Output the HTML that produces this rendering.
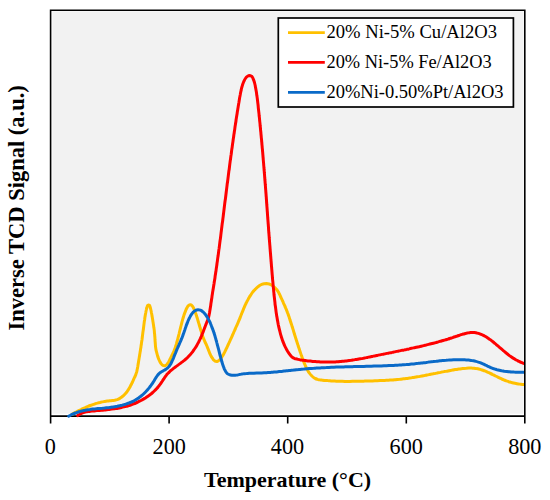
<!DOCTYPE html>
<html><head><meta charset="utf-8"><style>
html,body{margin:0;padding:0;background:#fff;}
body{width:550px;height:500px;overflow:hidden;position:relative;font-family:"Liberation Serif",serif;}
svg{position:absolute;left:0;top:0;}
</style></head><body>
<svg width="550" height="500" viewBox="0 0 550 500">
<defs><clipPath id="pc"><rect x="40" y="11" width="484.1" height="412"/></clipPath></defs>
<rect x="52.4" y="11.4" width="471.2" height="402.3" fill="#F2F2F2"/>

<g stroke="#000" stroke-width="1.6" fill="none">
<path d="M50.6,423.6 V10.2 H524.8 V423.6"/>
<path d="M50.6,416.1 H524.8"/>
<path d="M169.1,416 V423.6 M287.7,416 V423.6 M406.3,416 V423.6"/>
</g>
<g clip-path="url(#pc)" fill="none" stroke-linecap="round" stroke-linejoin="round" stroke-width="3.0">
<path stroke="#FFC000" d="M72.3,414.1 C72.7,413.9 73.8,413.3 74.5,412.9 C75.2,412.5 76.0,412.1 76.7,411.7 C77.4,411.4 78.2,411.0 78.9,410.6 C79.7,410.2 80.4,409.9 81.2,409.5 C81.9,409.1 82.7,408.8 83.4,408.4 C84.2,408.1 85.0,407.7 85.7,407.4 C86.5,407.1 87.2,406.7 88.0,406.4 C88.8,406.1 89.6,405.8 90.3,405.5 C91.1,405.2 91.9,404.9 92.7,404.6 C93.5,404.4 94.3,404.1 95.1,403.8 C95.9,403.6 96.6,403.3 97.4,403.1 C98.2,402.9 99.0,402.7 99.9,402.5 C100.7,402.3 101.5,402.1 102.3,401.9 C103.1,401.7 103.9,401.6 104.8,401.4 C105.6,401.3 106.4,401.2 107.2,401.1 C108.0,401.0 108.9,400.9 109.7,400.8 C110.5,400.7 111.4,400.7 112.2,400.6 C113.0,400.5 113.8,400.3 114.7,400.2 C115.5,400.0 116.3,399.8 117.1,399.6 C117.9,399.3 118.7,399.0 119.4,398.6 C120.1,398.2 120.8,397.8 121.5,397.3 C122.2,396.8 122.8,396.3 123.5,395.7 C124.1,395.1 124.6,394.5 125.2,393.9 C125.7,393.3 126.3,392.6 126.8,392.0 C127.3,391.3 127.7,390.6 128.2,389.9 C128.6,389.2 129.1,388.5 129.5,387.8 C129.9,387.1 130.3,386.3 130.7,385.6 C131.1,384.8 131.5,384.1 131.8,383.4 C132.2,382.6 132.5,381.9 132.9,381.1 C133.3,380.3 133.6,379.6 133.9,378.8 C134.3,378.1 134.6,377.3 135.0,376.5 C135.3,375.8 135.7,375.0 135.9,374.2 C136.2,373.4 136.5,372.7 136.7,371.9 C136.9,371.0 137.1,370.2 137.2,369.4 C137.4,368.6 137.5,367.8 137.7,367.0 C137.8,366.2 138.0,365.3 138.1,364.5 C138.2,363.6 138.4,362.8 138.5,362.0 C138.6,361.2 138.8,360.3 138.9,359.5 C139.1,358.6 139.2,357.9 139.3,357.1 C139.5,356.3 139.6,355.4 139.7,354.5 C139.9,353.7 140.0,352.9 140.1,352.1 C140.3,351.3 140.4,350.5 140.5,349.7 C140.6,348.8 140.8,348.0 140.9,347.2 C141.0,346.3 141.1,345.6 141.3,344.7 C141.4,343.9 141.5,343.1 141.6,342.2 C141.7,341.4 141.8,340.6 142.0,339.8 C142.1,339.0 142.2,338.1 142.3,337.3 C142.4,336.4 142.5,335.6 142.6,334.8 C142.7,334.0 142.8,333.2 142.9,332.3 C143.0,331.5 143.2,330.6 143.3,329.8 C143.4,329.0 143.5,328.1 143.6,327.3 C143.7,326.5 143.8,325.7 143.9,324.8 C144.0,324.0 144.1,323.2 144.2,322.4 C144.3,321.6 144.4,320.8 144.6,320.0 C144.7,319.1 144.8,318.2 144.9,317.4 C145.1,316.6 145.2,315.8 145.3,315.0 C145.5,314.2 145.6,313.3 145.8,312.5 C145.9,311.7 146.1,310.8 146.3,310.0 C146.4,309.2 146.6,308.4 146.9,307.6 C147.1,306.9 147.3,305.7 147.7,305.3 C148.2,304.9 149.0,304.9 149.5,305.2 C149.9,305.6 150.1,306.8 150.3,307.6 C150.6,308.4 150.7,309.2 150.9,310.0 C151.1,310.8 151.2,311.6 151.4,312.5 C151.6,313.3 151.7,314.2 151.9,315.0 C152.0,315.8 152.1,316.6 152.3,317.4 C152.4,318.2 152.5,319.0 152.7,319.9 C152.8,320.7 152.9,321.6 153.1,322.4 C153.2,323.2 153.3,324.0 153.5,324.8 C153.6,325.7 153.7,326.5 153.8,327.4 C154.0,328.2 154.1,328.9 154.2,329.8 C154.3,330.6 154.4,331.4 154.4,332.3 C154.5,333.1 154.6,334.1 154.7,334.9 C154.7,335.7 154.8,336.4 154.9,337.2 C154.9,338.0 155.0,339.0 155.0,339.9 C155.1,340.7 155.1,341.5 155.2,342.3 C155.3,343.1 155.3,344.0 155.4,344.8 C155.4,345.7 155.5,346.4 155.6,347.2 C155.7,348.0 155.8,348.9 156.0,349.7 C156.1,350.5 156.4,351.3 156.6,352.1 C156.8,352.9 157.0,353.7 157.2,354.5 C157.4,355.3 157.7,356.1 157.9,356.9 C158.2,357.7 158.4,358.5 158.8,359.3 C159.1,360.0 159.4,360.8 159.8,361.5 C160.2,362.3 160.6,363.0 161.1,363.7 C161.6,364.3 162.2,365.1 162.9,365.4 C163.6,365.7 164.6,365.9 165.3,365.6 C166.0,365.4 166.7,364.7 167.2,364.1 C167.7,363.5 168.1,362.7 168.6,362.0 C169.0,361.3 169.4,360.5 169.7,359.8 C170.1,359.0 170.5,358.3 170.8,357.5 C171.2,356.8 171.6,356.0 172.0,355.3 C172.3,354.6 172.7,353.8 173.1,353.1 C173.4,352.3 173.8,351.6 174.1,350.8 C174.4,350.0 174.7,349.2 175.0,348.4 C175.3,347.6 175.5,346.9 175.8,346.1 C176.0,345.3 176.2,344.5 176.5,343.7 C176.7,342.9 176.9,342.0 177.1,341.2 C177.4,340.4 177.6,339.6 177.8,338.8 C178.0,338.0 178.2,337.2 178.4,336.4 C178.6,335.6 178.8,334.8 179.0,334.0 C179.2,333.1 179.4,332.3 179.6,331.5 C179.8,330.7 180.0,329.9 180.2,329.1 C180.4,328.3 180.6,327.5 180.8,326.7 C181.0,325.9 181.2,325.1 181.4,324.3 C181.6,323.5 181.8,322.6 182.0,321.8 C182.2,321.0 182.5,320.2 182.7,319.4 C182.9,318.7 183.1,317.9 183.4,317.1 C183.6,316.3 183.9,315.5 184.1,314.7 C184.4,313.9 184.7,313.1 185.0,312.3 C185.3,311.6 185.6,310.8 185.9,310.0 C186.2,309.2 186.6,308.5 187.0,307.7 C187.4,307.0 187.8,306.2 188.4,305.7 C189.0,305.2 189.9,304.7 190.6,304.8 C191.3,304.9 192.0,305.7 192.5,306.3 C193.0,306.9 193.4,307.7 193.7,308.5 C194.1,309.2 194.4,310.0 194.7,310.8 C195.1,311.6 195.3,312.4 195.6,313.2 C195.9,314.0 196.2,314.7 196.4,315.5 C196.7,316.3 196.9,317.1 197.2,317.9 C197.4,318.7 197.7,319.5 197.9,320.3 C198.1,321.1 198.4,321.9 198.6,322.7 C198.9,323.5 199.1,324.3 199.3,325.1 C199.6,325.9 199.8,326.7 200.0,327.5 C200.3,328.3 200.5,329.1 200.7,329.9 C201.0,330.7 201.2,331.5 201.5,332.3 C201.7,333.1 202.0,333.9 202.2,334.7 C202.5,335.5 202.7,336.2 203.0,337.0 C203.3,337.8 203.6,338.6 203.9,339.3 C204.2,340.1 204.6,340.9 204.9,341.6 C205.2,342.4 205.6,343.2 206.0,343.9 C206.3,344.7 206.7,345.4 207.0,346.2 C207.3,347.0 207.6,347.7 207.9,348.5 C208.2,349.3 208.5,350.1 208.8,350.8 C209.1,351.6 209.4,352.4 209.7,353.2 C210.1,353.9 210.4,354.7 210.8,355.5 C211.2,356.2 211.5,356.9 212.0,357.6 C212.4,358.3 212.9,359.1 213.4,359.7 C214.0,360.3 214.6,361.0 215.3,361.2 C216.0,361.5 217.0,361.5 217.7,361.3 C218.5,361.1 219.1,360.4 219.7,359.8 C220.3,359.2 220.8,358.5 221.3,357.9 C221.8,357.2 222.2,356.5 222.6,355.8 C223.1,355.1 223.5,354.3 223.9,353.6 C224.3,352.8 224.6,352.1 225.0,351.4 C225.4,350.6 225.8,349.9 226.1,349.1 C226.5,348.4 226.9,347.6 227.2,346.9 C227.6,346.1 227.9,345.3 228.3,344.6 C228.6,343.8 229.0,343.1 229.3,342.3 C229.7,341.6 230.0,340.8 230.3,340.0 C230.7,339.3 231.0,338.5 231.4,337.8 C231.7,337.0 232.0,336.3 232.4,335.5 C232.7,334.7 233.0,333.9 233.4,333.2 C233.7,332.4 234.0,331.7 234.4,330.9 C234.7,330.2 235.1,329.4 235.4,328.6 C235.7,327.8 236.1,327.1 236.4,326.3 C236.8,325.6 237.1,324.8 237.4,324.1 C237.8,323.3 238.1,322.5 238.4,321.7 C238.7,321.0 239.1,320.2 239.4,319.4 C239.7,318.7 240.0,317.9 240.3,317.1 C240.6,316.3 240.9,315.6 241.2,314.8 C241.5,314.0 241.8,313.3 242.1,312.5 C242.4,311.7 242.8,310.9 243.1,310.1 C243.4,309.4 243.7,308.6 244.0,307.8 C244.3,307.1 244.7,306.3 245.0,305.5 C245.4,304.8 245.7,304.0 246.1,303.3 C246.4,302.5 246.8,301.8 247.2,301.0 C247.6,300.3 248.0,299.6 248.4,298.8 C248.8,298.1 249.2,297.4 249.6,296.7 C250.1,296.0 250.5,295.3 251.0,294.6 C251.4,293.9 251.9,293.2 252.4,292.5 C252.9,291.9 253.4,291.2 254.0,290.6 C254.5,290.0 255.1,289.3 255.7,288.8 C256.3,288.2 256.9,287.6 257.5,287.1 C258.2,286.5 258.8,286.0 259.5,285.6 C260.2,285.2 261.0,284.7 261.7,284.4 C262.5,284.1 263.3,283.8 264.1,283.7 C264.9,283.6 265.8,283.5 266.6,283.5 C267.4,283.6 268.3,283.8 269.1,284.0 C269.8,284.3 270.6,284.6 271.3,285.0 C272.1,285.4 272.8,285.9 273.4,286.4 C274.1,286.9 274.7,287.5 275.3,288.1 C275.9,288.7 276.4,289.3 277.0,289.9 C277.5,290.6 277.9,291.3 278.4,292.0 C278.8,292.7 279.1,293.5 279.5,294.3 C279.9,295.0 280.2,295.8 280.5,296.5 C280.9,297.3 281.2,298.0 281.6,298.8 C281.9,299.6 282.3,300.3 282.6,301.1 C283.0,301.8 283.3,302.6 283.6,303.3 C284.0,304.1 284.3,304.9 284.7,305.6 C285.0,306.4 285.3,307.2 285.6,307.9 C286.0,308.7 286.3,309.5 286.6,310.2 C286.9,311.0 287.2,311.8 287.5,312.6 C287.8,313.3 288.1,314.1 288.3,314.9 C288.6,315.7 288.9,316.5 289.2,317.3 C289.4,318.1 289.7,318.8 289.9,319.6 C290.2,320.4 290.5,321.3 290.7,322.1 C291.0,322.9 291.2,323.6 291.5,324.4 C291.7,325.2 292.0,326.0 292.2,326.8 C292.5,327.6 292.7,328.4 293.0,329.2 C293.2,330.0 293.5,330.8 293.7,331.6 C293.9,332.4 294.2,333.2 294.4,334.0 C294.7,334.8 294.9,335.6 295.2,336.4 C295.4,337.2 295.7,338.0 295.9,338.8 C296.2,339.6 296.4,340.3 296.7,341.1 C296.9,341.9 297.2,342.7 297.4,343.5 C297.7,344.3 298.0,345.1 298.2,345.9 C298.5,346.7 298.7,347.5 299.0,348.2 C299.2,349.0 299.5,349.9 299.8,350.7 C300.0,351.5 300.3,352.3 300.6,353.0 C300.8,353.8 301.1,354.6 301.4,355.4 C301.7,356.1 301.9,356.9 302.2,357.7 C302.5,358.5 302.8,359.3 303.1,360.1 C303.4,360.9 303.7,361.6 304.0,362.4 C304.3,363.2 304.6,364.0 305.0,364.7 C305.3,365.5 305.6,366.2 306.0,367.0 C306.3,367.7 306.7,368.5 307.1,369.2 C307.4,370.0 307.8,370.7 308.3,371.4 C308.7,372.1 309.2,372.8 309.7,373.5 C310.2,374.2 310.7,374.8 311.3,375.4 C311.8,376.0 312.4,376.6 313.1,377.1 C313.8,377.6 314.5,378.1 315.2,378.5 C315.9,378.8 316.7,379.1 317.5,379.4 C318.3,379.6 319.1,379.7 320.0,379.9 C320.8,380.0 321.6,380.1 322.4,380.2 C323.3,380.3 324.1,380.4 324.9,380.4 C325.7,380.5 326.6,380.6 327.4,380.6 C328.3,380.7 329.1,380.8 329.9,380.8 C330.7,380.9 331.6,380.9 332.4,381.0 C333.2,381.0 334.1,381.1 334.9,381.1 C335.7,381.1 336.6,381.2 337.4,381.2 C338.2,381.2 339.1,381.3 339.9,381.3 C340.7,381.3 341.6,381.3 342.4,381.3 C343.2,381.3 344.1,381.3 344.9,381.4 C345.7,381.4 346.6,381.4 347.4,381.4 C348.2,381.4 349.1,381.4 349.9,381.4 C350.7,381.4 351.6,381.4 352.4,381.3 C353.2,381.3 354.1,381.3 354.9,381.3 C355.7,381.3 356.6,381.3 357.4,381.3 C358.2,381.3 359.1,381.2 359.9,381.2 C360.7,381.2 361.6,381.2 362.4,381.2 C363.2,381.2 364.1,381.1 364.9,381.1 C365.7,381.1 366.6,381.1 367.4,381.0 C368.2,381.0 369.1,381.0 369.9,381.0 C370.7,381.0 371.6,380.9 372.4,380.9 C373.2,380.9 374.1,380.9 374.9,380.8 C375.7,380.8 376.6,380.8 377.4,380.7 C378.2,380.7 379.1,380.7 379.9,380.6 C380.7,380.6 381.5,380.6 382.4,380.5 C383.2,380.5 384.0,380.4 384.9,380.4 C385.7,380.4 386.5,380.3 387.4,380.3 C388.2,380.2 389.0,380.2 389.9,380.1 C390.7,380.0 391.5,380.0 392.4,379.9 C393.2,379.9 394.0,379.8 394.9,379.7 C395.7,379.7 396.5,379.6 397.4,379.5 C398.2,379.4 399.0,379.3 399.8,379.3 C400.7,379.2 401.5,379.1 402.3,379.0 C403.1,378.9 404.0,378.8 404.8,378.7 C405.6,378.6 406.5,378.5 407.3,378.4 C408.1,378.3 408.9,378.1 409.8,378.0 C410.6,377.9 411.4,377.8 412.2,377.6 C413.1,377.5 413.9,377.4 414.7,377.2 C415.5,377.1 416.3,377.0 417.2,376.8 C418.0,376.7 418.8,376.5 419.6,376.4 C420.5,376.2 421.3,376.1 422.1,375.9 C422.9,375.8 423.7,375.6 424.5,375.5 C425.4,375.3 426.2,375.2 427.0,375.0 C427.8,374.9 428.6,374.7 429.5,374.5 C430.3,374.4 431.1,374.2 431.9,374.1 C432.7,373.9 433.5,373.7 434.4,373.6 C435.2,373.4 436.0,373.3 436.8,373.1 C437.6,372.9 438.4,372.8 439.3,372.6 C440.1,372.4 440.9,372.3 441.7,372.1 C442.5,372.0 443.4,371.8 444.2,371.6 C445.0,371.5 445.8,371.3 446.6,371.2 C447.4,371.0 448.3,370.9 449.1,370.7 C449.9,370.6 450.7,370.4 451.5,370.3 C452.4,370.1 453.2,370.0 454.0,369.8 C454.8,369.7 455.7,369.5 456.5,369.4 C457.3,369.3 458.1,369.1 458.9,369.0 C459.8,368.9 460.6,368.8 461.4,368.7 C462.2,368.6 463.1,368.5 463.9,368.4 C464.7,368.3 465.6,368.2 466.4,368.2 C467.2,368.1 468.0,368.1 468.9,368.1 C469.7,368.1 470.5,368.1 471.4,368.1 C472.2,368.1 473.0,368.2 473.9,368.2 C474.7,368.3 475.5,368.4 476.4,368.6 C477.2,368.7 478.0,368.8 478.8,369.0 C479.6,369.2 480.4,369.4 481.2,369.7 C482.0,369.9 482.8,370.2 483.6,370.5 C484.4,370.8 485.1,371.1 485.9,371.4 C486.7,371.7 487.5,372.1 488.2,372.4 C489.0,372.7 489.7,373.1 490.5,373.5 C491.2,373.8 492.0,374.2 492.7,374.6 C493.5,374.9 494.2,375.3 495.0,375.7 C495.7,376.1 496.5,376.4 497.2,376.8 C497.9,377.2 498.7,377.6 499.4,377.9 C500.2,378.3 500.9,378.6 501.7,379.0 C502.5,379.3 503.2,379.6 504.0,380.0 C504.8,380.3 505.6,380.6 506.3,380.9 C507.1,381.1 507.9,381.4 508.7,381.7 C509.5,381.9 510.3,382.2 511.1,382.4 C511.9,382.6 512.7,382.8 513.5,383.0 C514.3,383.2 515.1,383.4 516.0,383.5 C516.8,383.7 517.6,383.8 518.4,383.9 C519.2,384.1 520.1,384.2 520.9,384.2 C521.7,384.3 522.7,384.4 523.4,384.4 C524.1,384.5 524.7,384.5 525.0,384.5"/>
<path stroke="#FF0000" d="M77.7,415.6 C78.0,415.4 79.1,414.6 79.8,414.2 C80.5,413.8 81.3,413.4 82.0,413.1 C82.8,412.8 83.6,412.5 84.4,412.3 C85.2,412.1 86.0,411.9 86.8,411.7 C87.6,411.6 88.5,411.5 89.3,411.4 C90.1,411.3 90.9,411.2 91.8,411.1 C92.6,411.0 93.4,410.9 94.3,410.9 C95.1,410.8 95.9,410.7 96.8,410.6 C97.6,410.5 98.4,410.5 99.3,410.4 C100.1,410.3 100.9,410.2 101.7,410.2 C102.6,410.1 103.4,410.0 104.2,409.9 C105.1,409.9 105.9,409.8 106.7,409.7 C107.5,409.6 108.4,409.5 109.2,409.4 C110.0,409.3 110.9,409.2 111.7,409.1 C112.5,409.0 113.3,408.9 114.2,408.8 C115.0,408.7 115.8,408.5 116.6,408.4 C117.5,408.3 118.3,408.1 119.1,408.0 C119.9,407.8 120.7,407.7 121.5,407.5 C122.4,407.3 123.2,407.1 124.0,406.9 C124.8,406.7 125.6,406.5 126.4,406.3 C127.2,406.1 128.0,405.8 128.8,405.6 C129.6,405.3 130.4,405.1 131.2,404.8 C132.0,404.5 132.7,404.2 133.5,403.9 C134.3,403.6 135.1,403.3 135.8,403.0 C136.6,402.7 137.4,402.3 138.1,401.9 C138.9,401.6 139.6,401.2 140.3,400.8 C141.1,400.5 141.8,400.0 142.5,399.6 C143.3,399.2 144.0,398.8 144.7,398.4 C145.4,397.9 146.1,397.5 146.8,397.0 C147.5,396.5 148.2,396.1 148.8,395.6 C149.5,395.1 150.2,394.6 150.8,394.1 C151.5,393.5 152.1,393.0 152.7,392.5 C153.4,391.9 154.0,391.3 154.6,390.7 C155.2,390.2 155.8,389.6 156.3,389.0 C156.9,388.3 157.4,387.7 158.0,387.1 C158.5,386.4 159.0,385.8 159.5,385.1 C160.0,384.5 160.5,383.8 161.0,383.1 C161.5,382.4 161.9,381.7 162.4,381.0 C162.8,380.3 163.3,379.6 163.8,378.9 C164.2,378.2 164.7,377.5 165.1,376.9 C165.6,376.2 166.1,375.5 166.6,374.8 C167.1,374.2 167.7,373.6 168.3,373.0 C168.8,372.4 169.5,371.8 170.1,371.2 C170.7,370.7 171.3,370.1 172.0,369.6 C172.6,369.1 173.3,368.6 173.9,368.1 C174.6,367.6 175.3,367.1 175.9,366.6 C176.6,366.1 177.3,365.6 178.0,365.1 C178.6,364.6 179.3,364.1 180.0,363.6 C180.7,363.1 181.3,362.6 182.0,362.1 C182.7,361.6 183.3,361.1 184.0,360.6 C184.6,360.1 185.2,359.5 185.9,359.0 C186.5,358.4 187.1,357.8 187.7,357.3 C188.3,356.7 188.9,356.1 189.4,355.5 C190.0,354.9 190.6,354.2 191.1,353.6 C191.6,353.0 192.2,352.3 192.7,351.7 C193.2,351.0 193.7,350.3 194.1,349.6 C194.6,349.0 195.1,348.3 195.5,347.6 C196.0,346.9 196.4,346.1 196.8,345.4 C197.2,344.7 197.6,344.0 198.0,343.2 C198.4,342.5 198.8,341.7 199.2,341.0 C199.5,340.3 199.9,339.5 200.3,338.7 C200.6,338.0 200.9,337.2 201.3,336.4 C201.6,335.7 201.9,334.9 202.2,334.1 C202.6,333.4 202.9,332.6 203.2,331.8 C203.5,331.0 203.7,330.3 204.0,329.5 C204.3,328.7 204.6,327.9 204.9,327.1 C205.2,326.3 205.5,325.6 205.8,324.8 C206.1,324.0 206.4,323.3 206.7,322.5 C207.0,321.7 207.4,321.0 207.6,320.2 C207.9,319.4 208.2,318.6 208.4,317.8 C208.6,317.0 208.8,316.1 209.0,315.3 C209.2,314.5 209.3,313.7 209.5,312.8 C209.6,312.0 209.8,311.2 209.9,310.4 C210.1,309.5 210.2,308.7 210.3,307.9 C210.4,307.1 210.6,306.3 210.7,305.5 C210.8,304.7 210.9,303.9 211.0,303.0 C211.2,302.2 211.3,301.4 211.4,300.5 C211.5,299.7 211.6,298.9 211.8,298.1 C211.9,297.3 212.0,296.4 212.1,295.6 C212.3,294.8 212.4,294.0 212.5,293.1 C212.6,292.3 212.8,291.4 212.9,290.6 C213.0,289.8 213.2,289.0 213.3,288.2 C213.4,287.4 213.6,286.5 213.7,285.7 C213.8,284.9 213.9,284.1 214.1,283.3 C214.2,282.5 214.3,281.6 214.5,280.7 C214.6,279.9 214.7,279.1 214.9,278.3 C215.0,277.4 215.1,276.6 215.2,275.7 C215.4,274.9 215.5,274.1 215.6,273.3 C215.7,272.5 215.8,271.7 216.0,270.9 C216.1,270.1 216.2,269.2 216.3,268.4 C216.4,267.6 216.6,266.7 216.7,265.9 C216.8,265.1 216.9,264.3 217.0,263.5 C217.1,262.6 217.3,261.7 217.4,260.9 C217.5,260.1 217.6,259.3 217.7,258.4 C217.8,257.6 217.9,256.8 218.1,255.9 C218.2,255.1 218.3,254.4 218.4,253.6 C218.5,252.8 218.6,251.9 218.7,251.1 C218.8,250.2 218.9,249.3 219.1,248.5 C219.2,247.7 219.3,246.9 219.4,246.1 C219.5,245.3 219.6,244.5 219.7,243.6 C219.8,242.8 219.9,242.0 220.0,241.2 C220.1,240.3 220.3,239.4 220.4,238.6 C220.5,237.7 220.6,237.0 220.7,236.2 C220.8,235.4 220.9,234.6 221.0,233.7 C221.1,232.9 221.2,232.1 221.3,231.2 C221.4,230.4 221.5,229.6 221.6,228.7 C221.7,227.9 221.8,227.0 221.9,226.2 C222.0,225.4 222.1,224.6 222.2,223.8 C222.3,223.0 222.5,222.1 222.6,221.3 C222.7,220.4 222.8,219.6 222.9,218.7 C223.0,217.9 223.1,217.2 223.2,216.3 C223.3,215.5 223.4,214.6 223.5,213.8 C223.6,213.0 223.7,212.2 223.8,211.4 C223.9,210.6 224.0,209.7 224.1,208.8 C224.2,208.0 224.3,207.3 224.4,206.4 C224.5,205.6 224.6,204.7 224.7,203.9 C224.8,203.1 224.9,202.3 225.0,201.5 C225.1,200.7 225.3,199.8 225.4,198.9 C225.5,198.1 225.6,197.4 225.7,196.5 C225.8,195.7 225.9,194.8 226.0,194.0 C226.1,193.1 226.2,192.3 226.3,191.5 C226.4,190.6 226.5,189.9 226.6,189.1 C226.7,188.3 226.8,187.4 226.9,186.6 C227.0,185.7 227.1,184.9 227.2,184.0 C227.3,183.2 227.5,182.4 227.6,181.5 C227.7,180.7 227.8,179.9 227.9,179.1 C228.0,178.2 228.1,177.4 228.2,176.6 C228.3,175.8 228.4,174.9 228.5,174.1 C228.6,173.3 228.7,172.5 228.8,171.7 C228.9,170.8 229.1,170.0 229.2,169.2 C229.3,168.4 229.4,167.6 229.5,166.8 C229.6,166.0 229.7,165.1 229.8,164.2 C229.9,163.4 230.0,162.7 230.1,161.8 C230.2,161.0 230.4,160.1 230.5,159.3 C230.6,158.5 230.7,157.6 230.8,156.8 C230.9,156.0 231.0,155.1 231.2,154.3 C231.3,153.5 231.4,152.6 231.5,151.8 C231.6,151.0 231.7,150.2 231.8,149.3 C232.0,148.5 232.1,147.7 232.2,146.9 C232.3,146.1 232.4,145.3 232.5,144.5 C232.6,143.6 232.8,142.7 232.9,141.9 C233.0,141.1 233.1,140.3 233.2,139.5 C233.3,138.7 233.5,137.8 233.6,137.0 C233.7,136.2 233.8,135.3 233.9,134.5 C234.1,133.7 234.2,132.8 234.3,132.0 C234.4,131.2 234.5,130.4 234.7,129.6 C234.8,128.8 234.9,128.0 235.0,127.1 C235.1,126.3 235.3,125.4 235.4,124.6 C235.5,123.8 235.6,123.0 235.8,122.2 C235.9,121.4 236.0,120.5 236.1,119.7 C236.3,118.9 236.4,118.1 236.5,117.2 C236.6,116.4 236.8,115.6 236.9,114.8 C237.0,114.0 237.2,113.1 237.3,112.2 C237.4,111.4 237.5,110.7 237.7,109.9 C237.8,109.0 237.9,108.2 238.1,107.4 C238.2,106.5 238.3,105.7 238.5,104.9 C238.6,104.1 238.7,103.3 238.9,102.5 C239.0,101.7 239.2,100.8 239.3,100.0 C239.4,99.1 239.6,98.3 239.7,97.4 C239.9,96.6 240.0,95.8 240.2,95.0 C240.3,94.2 240.5,93.4 240.6,92.6 C240.8,91.8 241.0,91.0 241.2,90.1 C241.3,89.3 241.5,88.5 241.7,87.7 C241.9,86.9 242.2,86.1 242.4,85.3 C242.6,84.5 242.9,83.8 243.2,83.0 C243.5,82.2 243.8,81.4 244.2,80.7 C244.5,79.9 244.9,79.2 245.4,78.5 C245.9,77.8 246.4,77.1 247.0,76.6 C247.7,76.1 248.5,75.6 249.2,75.5 C250.0,75.5 250.9,75.8 251.6,76.2 C252.2,76.7 252.6,77.5 253.0,78.3 C253.3,79.0 253.6,79.8 253.9,80.6 C254.1,81.4 254.4,82.2 254.6,83.0 C254.8,83.9 255.0,84.7 255.2,85.5 C255.3,86.3 255.5,87.1 255.6,87.9 C255.8,88.7 255.9,89.5 256.1,90.4 C256.2,91.2 256.4,92.0 256.5,92.9 C256.6,93.7 256.7,94.5 256.8,95.4 C257.0,96.2 257.1,97.1 257.2,97.9 C257.3,98.7 257.4,99.5 257.5,100.3 C257.6,101.1 257.7,101.9 257.8,102.8 C257.9,103.6 258.0,104.4 258.1,105.2 C258.2,106.0 258.2,106.9 258.3,107.7 C258.4,108.6 258.5,109.5 258.6,110.3 C258.7,111.1 258.8,111.9 258.9,112.8 C259.0,113.6 259.1,114.5 259.1,115.3 C259.2,116.1 259.3,116.8 259.4,117.6 C259.5,118.5 259.6,119.4 259.6,120.2 C259.7,121.1 259.8,121.8 259.9,122.6 C260.0,123.5 260.1,124.4 260.1,125.3 C260.2,126.1 260.3,126.9 260.4,127.7 C260.5,128.5 260.5,129.4 260.6,130.2 C260.7,131.0 260.8,131.9 260.9,132.7 C260.9,133.5 261.0,134.4 261.1,135.2 C261.2,136.0 261.2,136.7 261.3,137.6 C261.4,138.4 261.5,139.3 261.6,140.2 C261.6,141.0 261.7,141.7 261.8,142.5 C261.9,143.4 261.9,144.3 262.0,145.2 C262.1,146.0 262.2,146.8 262.2,147.6 C262.3,148.5 262.4,149.3 262.5,150.1 C262.5,150.9 262.6,151.8 262.7,152.6 C262.8,153.5 262.8,154.3 262.9,155.1 C263.0,156.0 263.0,156.6 263.1,157.5 C263.2,158.3 263.2,159.2 263.3,160.1 C263.4,160.9 263.4,161.6 263.5,162.4 C263.6,163.3 263.7,164.2 263.7,165.1 C263.8,165.9 263.9,166.7 263.9,167.5 C264.0,168.3 264.1,169.1 264.1,170.0 C264.2,170.8 264.3,171.6 264.3,172.4 C264.4,173.3 264.5,174.1 264.5,174.9 C264.6,175.8 264.7,176.6 264.7,177.4 C264.8,178.3 264.9,179.1 264.9,180.0 C265.0,180.8 265.1,181.7 265.1,182.6 C265.2,183.4 265.3,184.1 265.3,184.9 C265.4,185.7 265.5,186.7 265.5,187.5 C265.6,188.3 265.6,189.0 265.7,189.9 C265.8,190.7 265.8,191.7 265.9,192.5 C266.0,193.4 266.0,194.1 266.1,194.9 C266.1,195.7 266.2,196.5 266.3,197.4 C266.3,198.2 266.4,199.2 266.5,200.1 C266.5,200.9 266.6,201.7 266.6,202.5 C266.7,203.4 266.8,204.2 266.8,205.0 C266.9,205.8 266.9,206.7 267.0,207.5 C267.1,208.3 267.1,209.1 267.2,210.0 C267.2,210.8 267.3,211.6 267.4,212.5 C267.4,213.3 267.5,214.1 267.5,214.9 C267.6,215.8 267.7,216.6 267.7,217.4 C267.8,218.2 267.8,219.1 267.9,219.9 C268.0,220.7 268.0,221.5 268.1,222.3 C268.1,223.1 268.2,223.9 268.3,224.8 C268.3,225.6 268.4,226.6 268.5,227.4 C268.5,228.3 268.6,229.0 268.6,229.8 C268.7,230.7 268.8,231.6 268.8,232.5 C268.9,233.3 269.0,234.0 269.0,234.8 C269.1,235.7 269.2,236.6 269.2,237.5 C269.3,238.3 269.3,239.0 269.4,239.8 C269.5,240.6 269.5,241.5 269.6,242.4 C269.7,243.2 269.7,244.1 269.8,244.9 C269.9,245.7 269.9,246.4 270.0,247.2 C270.0,248.0 270.1,248.9 270.2,249.7 C270.2,250.6 270.3,251.4 270.4,252.3 C270.4,253.1 270.5,253.9 270.6,254.8 C270.6,255.6 270.7,256.4 270.8,257.3 C270.8,258.1 270.9,258.9 271.0,259.7 C271.0,260.6 271.1,261.4 271.2,262.2 C271.2,263.0 271.3,263.8 271.4,264.7 C271.4,265.5 271.5,266.5 271.6,267.3 C271.7,268.2 271.7,268.9 271.8,269.7 C271.9,270.5 271.9,271.3 272.0,272.1 C272.1,273.0 272.1,273.9 272.2,274.7 C272.3,275.6 272.4,276.5 272.4,277.3 C272.5,278.1 272.6,278.7 272.6,279.6 C272.7,280.4 272.8,281.4 272.9,282.3 C273.0,283.1 273.0,283.9 273.1,284.7 C273.2,285.5 273.2,286.3 273.3,287.1 C273.4,287.9 273.5,288.8 273.6,289.6 C273.6,290.5 273.7,291.3 273.8,292.1 C273.9,292.9 274.0,293.7 274.0,294.5 C274.1,295.3 274.2,296.2 274.3,297.0 C274.4,297.9 274.5,298.8 274.6,299.6 C274.7,300.5 274.8,301.3 274.9,302.1 C275.0,302.9 275.0,303.6 275.1,304.5 C275.2,305.3 275.4,306.2 275.5,307.0 C275.6,307.9 275.7,308.6 275.8,309.4 C275.9,310.3 276.0,311.0 276.1,311.9 C276.2,312.7 276.4,313.6 276.5,314.4 C276.6,315.3 276.7,316.0 276.9,316.8 C277.0,317.6 277.2,318.5 277.3,319.3 C277.4,320.1 277.6,321.0 277.8,321.8 C277.9,322.7 278.1,323.5 278.2,324.3 C278.4,325.1 278.6,325.9 278.7,326.7 C278.9,327.5 279.1,328.3 279.3,329.1 C279.5,330.0 279.7,330.7 279.9,331.5 C280.1,332.3 280.3,333.2 280.5,334.0 C280.7,334.8 281.0,335.6 281.2,336.3 C281.4,337.1 281.7,338.0 282.0,338.8 C282.2,339.6 282.5,340.3 282.8,341.1 C283.1,341.9 283.4,342.7 283.7,343.4 C284.0,344.2 284.3,345.0 284.7,345.7 C285.0,346.5 285.4,347.2 285.8,348.0 C286.1,348.7 286.6,349.5 287.0,350.2 C287.4,350.9 287.8,351.6 288.3,352.3 C288.8,353.0 289.2,353.7 289.7,354.3 C290.2,355.0 290.7,355.7 291.3,356.3 C291.9,356.8 292.5,357.4 293.2,357.9 C293.9,358.3 294.7,358.5 295.5,358.8 C296.3,359.0 297.1,359.2 298.0,359.4 C298.8,359.6 299.6,359.8 300.4,359.9 C301.2,360.1 302.0,360.2 302.9,360.3 C303.7,360.4 304.5,360.5 305.3,360.6 C306.2,360.7 307.0,360.8 307.8,360.9 C308.7,361.0 309.5,361.1 310.3,361.1 C311.1,361.2 312.0,361.3 312.8,361.4 C313.6,361.4 314.5,361.5 315.3,361.5 C316.1,361.6 317.0,361.7 317.8,361.7 C318.6,361.8 319.5,361.8 320.3,361.9 C321.1,361.9 322.0,361.9 322.8,362.0 C323.6,362.0 324.4,362.0 325.3,362.0 C326.1,362.1 326.9,362.1 327.8,362.1 C328.6,362.1 329.4,362.1 330.3,362.1 C331.1,362.0 331.9,362.0 332.8,362.0 C333.6,362.0 334.4,361.9 335.3,361.9 C336.1,361.8 336.9,361.8 337.8,361.7 C338.6,361.7 339.4,361.6 340.3,361.5 C341.1,361.5 341.9,361.4 342.8,361.3 C343.6,361.2 344.4,361.1 345.2,361.0 C346.1,360.9 346.9,360.8 347.7,360.7 C348.5,360.6 349.4,360.5 350.2,360.4 C351.0,360.3 351.9,360.2 352.7,360.0 C353.5,359.9 354.3,359.8 355.2,359.6 C356.0,359.5 356.8,359.4 357.6,359.2 C358.4,359.1 359.3,358.9 360.1,358.8 C360.9,358.7 361.7,358.5 362.5,358.4 C363.4,358.2 364.2,358.1 365.0,357.9 C365.8,357.7 366.6,357.6 367.5,357.4 C368.3,357.3 369.1,357.1 369.9,356.9 C370.7,356.8 371.5,356.6 372.4,356.4 C373.2,356.3 374.0,356.1 374.8,355.9 C375.6,355.8 376.4,355.6 377.3,355.4 C378.1,355.3 378.9,355.1 379.7,354.9 C380.5,354.7 381.3,354.6 382.1,354.4 C383.0,354.2 383.8,354.1 384.6,353.9 C385.4,353.7 386.2,353.6 387.0,353.4 C387.9,353.2 388.7,353.1 389.5,352.9 C390.3,352.7 391.1,352.5 391.9,352.4 C392.8,352.2 393.6,352.1 394.4,351.9 C395.2,351.7 396.0,351.6 396.8,351.4 C397.7,351.2 398.5,351.1 399.3,350.9 C400.1,350.7 400.9,350.6 401.7,350.4 C402.6,350.2 403.4,350.0 404.2,349.9 C405.0,349.7 405.8,349.5 406.6,349.4 C407.5,349.2 408.3,349.0 409.1,348.9 C409.9,348.7 410.7,348.5 411.5,348.3 C412.3,348.2 413.1,348.0 414.0,347.8 C414.8,347.6 415.6,347.5 416.4,347.3 C417.2,347.1 418.0,346.9 418.9,346.7 C419.7,346.5 420.5,346.4 421.3,346.2 C422.1,346.0 422.9,345.8 423.7,345.6 C424.5,345.4 425.3,345.2 426.2,345.0 C427.0,344.8 427.8,344.6 428.6,344.4 C429.4,344.2 430.2,344.0 431.0,343.8 C431.8,343.6 432.6,343.4 433.4,343.2 C434.2,343.0 435.0,342.8 435.8,342.6 C436.6,342.4 437.5,342.1 438.3,341.9 C439.1,341.7 439.9,341.5 440.7,341.2 C441.5,341.0 442.3,340.8 443.1,340.5 C443.9,340.3 444.7,340.1 445.5,339.8 C446.3,339.6 447.1,339.3 447.9,339.1 C448.7,338.9 449.4,338.6 450.2,338.3 C451.0,338.1 451.8,337.8 452.6,337.6 C453.4,337.3 454.2,337.0 455.0,336.8 C455.8,336.5 456.6,336.2 457.4,336.0 C458.1,335.7 458.9,335.4 459.7,335.2 C460.5,334.9 461.3,334.6 462.1,334.4 C462.9,334.2 463.7,333.9 464.5,333.7 C465.3,333.5 466.1,333.3 466.9,333.1 C467.8,333.0 468.6,332.8 469.4,332.7 C470.2,332.6 471.1,332.6 471.9,332.5 C472.7,332.5 473.6,332.5 474.4,332.6 C475.2,332.7 476.0,332.8 476.9,333.0 C477.7,333.1 478.5,333.4 479.3,333.6 C480.1,333.9 480.8,334.2 481.6,334.5 C482.4,334.9 483.1,335.2 483.9,335.6 C484.6,336.0 485.3,336.4 486.0,336.8 C486.8,337.3 487.4,337.7 488.1,338.2 C488.8,338.7 489.5,339.1 490.2,339.6 C490.9,340.1 491.5,340.6 492.2,341.1 C492.8,341.7 493.5,342.2 494.1,342.7 C494.8,343.2 495.4,343.8 496.0,344.3 C496.7,344.9 497.3,345.4 497.9,345.9 C498.6,346.5 499.2,347.0 499.8,347.6 C500.4,348.1 501.1,348.7 501.7,349.2 C502.4,349.8 503.0,350.3 503.6,350.9 C504.3,351.4 504.9,351.9 505.5,352.5 C506.2,353.0 506.8,353.5 507.5,354.0 C508.1,354.5 508.8,355.1 509.4,355.6 C510.1,356.1 510.8,356.5 511.5,357.0 C512.2,357.5 512.9,358.0 513.6,358.4 C514.3,358.8 515.0,359.3 515.7,359.7 C516.4,360.1 517.2,360.5 517.9,360.9 C518.6,361.3 519.4,361.6 520.1,362.0 C520.9,362.3 521.7,362.6 522.5,362.9 C523.2,363.2 524.4,363.6 524.8,363.7 C525.2,363.9 525.0,363.8 525.0,363.8"/>
<path stroke="#0A6AC8" d="M68.7,416.2 C69.1,416.0 70.2,415.4 70.9,415.0 C71.7,414.6 72.4,414.3 73.2,413.9 C73.9,413.6 74.7,413.3 75.5,413.0 C76.3,412.7 77.0,412.4 77.8,412.1 C78.6,411.9 79.4,411.6 80.2,411.4 C81.0,411.2 81.8,411.0 82.7,410.8 C83.5,410.6 84.3,410.4 85.1,410.3 C85.9,410.1 86.7,410.0 87.6,409.8 C88.4,409.7 89.2,409.6 90.0,409.5 C90.9,409.3 91.7,409.2 92.5,409.1 C93.3,409.0 94.2,409.0 95.0,408.9 C95.8,408.8 96.6,408.7 97.5,408.6 C98.3,408.5 99.1,408.5 100.0,408.4 C100.8,408.3 101.6,408.2 102.5,408.2 C103.3,408.1 104.1,408.0 105.0,407.9 C105.8,407.8 106.6,407.8 107.4,407.7 C108.3,407.6 109.1,407.5 109.9,407.4 C110.7,407.3 111.6,407.2 112.4,407.1 C113.2,406.9 114.1,406.8 114.9,406.7 C115.7,406.6 116.5,406.4 117.3,406.3 C118.2,406.1 119.0,405.9 119.8,405.7 C120.6,405.6 121.4,405.4 122.2,405.2 C123.0,404.9 123.8,404.7 124.6,404.5 C125.4,404.2 126.2,404.0 127.0,403.7 C127.8,403.4 128.6,403.1 129.3,402.8 C130.1,402.5 130.9,402.2 131.6,401.9 C132.4,401.5 133.2,401.1 133.9,400.8 C134.6,400.4 135.4,400.0 136.1,399.5 C136.8,399.1 137.5,398.7 138.2,398.2 C138.9,397.7 139.5,397.2 140.2,396.7 C140.9,396.2 141.5,395.7 142.2,395.1 C142.8,394.6 143.4,394.1 144.0,393.5 C144.6,392.9 145.2,392.3 145.8,391.7 C146.4,391.1 146.9,390.5 147.5,389.9 C148.0,389.2 148.5,388.6 149.1,388.0 C149.6,387.3 150.1,386.6 150.6,386.0 C151.1,385.3 151.6,384.6 152.1,383.9 C152.5,383.2 153.0,382.5 153.4,381.8 C153.9,381.1 154.3,380.4 154.7,379.7 C155.2,379.0 155.6,378.3 156.0,377.6 C156.5,376.9 156.9,376.2 157.4,375.5 C157.9,374.9 158.5,374.2 159.1,373.6 C159.7,373.1 160.3,372.5 161.0,372.1 C161.7,371.6 162.4,371.2 163.2,370.8 C163.9,370.4 164.7,370.0 165.4,369.6 C166.1,369.2 166.8,368.7 167.4,368.2 C168.0,367.6 168.6,367.0 169.1,366.4 C169.6,365.7 170.1,365.0 170.5,364.3 C170.9,363.6 171.3,362.8 171.7,362.1 C172.0,361.3 172.4,360.6 172.7,359.8 C173.1,359.0 173.4,358.2 173.7,357.5 C174.0,356.7 174.3,355.9 174.6,355.1 C174.9,354.4 175.2,353.6 175.6,352.8 C175.9,352.1 176.2,351.3 176.5,350.5 C176.8,349.8 177.1,349.0 177.5,348.2 C177.8,347.5 178.2,346.7 178.5,345.9 C178.8,345.2 179.2,344.4 179.5,343.7 C179.8,342.9 180.2,342.1 180.5,341.4 C180.8,340.6 181.1,339.8 181.5,339.0 C181.8,338.3 182.1,337.5 182.4,336.7 C182.7,336.0 182.9,335.2 183.2,334.4 C183.5,333.6 183.8,332.8 184.1,332.0 C184.3,331.2 184.6,330.5 184.9,329.7 C185.1,328.9 185.4,328.1 185.7,327.3 C186.0,326.5 186.2,325.7 186.5,324.9 C186.8,324.2 187.1,323.4 187.4,322.6 C187.7,321.8 188.0,321.1 188.3,320.3 C188.7,319.5 189.0,318.8 189.4,318.0 C189.8,317.3 190.2,316.5 190.6,315.8 C191.0,315.1 191.5,314.4 192.0,313.7 C192.5,313.1 193.0,312.4 193.6,311.8 C194.2,311.3 194.8,310.7 195.6,310.4 C196.3,310.0 197.2,309.7 198.0,309.7 C198.8,309.7 199.6,309.9 200.4,310.2 C201.2,310.5 201.9,311.0 202.5,311.5 C203.2,312.0 203.8,312.6 204.4,313.2 C204.9,313.8 205.4,314.5 205.9,315.2 C206.4,315.8 206.9,316.5 207.3,317.2 C207.7,318.0 208.1,318.7 208.5,319.4 C208.9,320.2 209.3,320.9 209.7,321.7 C210.0,322.4 210.4,323.2 210.7,324.0 C211.0,324.7 211.3,325.5 211.6,326.3 C211.9,327.0 212.2,327.8 212.5,328.6 C212.8,329.4 213.1,330.2 213.3,331.0 C213.6,331.8 213.9,332.5 214.1,333.3 C214.4,334.1 214.6,334.9 214.9,335.7 C215.1,336.5 215.3,337.4 215.6,338.2 C215.8,339.0 216.0,339.7 216.2,340.5 C216.5,341.3 216.7,342.1 216.9,343.0 C217.1,343.8 217.3,344.6 217.5,345.4 C217.7,346.2 218.0,347.0 218.2,347.8 C218.4,348.6 218.6,349.4 218.8,350.2 C219.0,351.0 219.2,351.8 219.4,352.6 C219.6,353.4 219.8,354.3 220.0,355.1 C220.3,355.9 220.5,356.7 220.7,357.5 C220.9,358.3 221.1,359.1 221.3,359.9 C221.6,360.7 221.8,361.5 222.0,362.3 C222.3,363.1 222.5,363.9 222.8,364.7 C223.1,365.5 223.3,366.3 223.6,367.0 C223.9,367.8 224.2,368.6 224.5,369.3 C224.9,370.1 225.2,370.9 225.7,371.6 C226.1,372.3 226.6,373.0 227.2,373.5 C227.8,374.1 228.6,374.4 229.4,374.7 C230.1,375.0 231.0,375.2 231.8,375.3 C232.6,375.4 233.4,375.4 234.3,375.3 C235.1,375.3 235.9,375.2 236.8,375.1 C237.6,374.9 238.4,374.8 239.2,374.6 C240.0,374.5 240.9,374.3 241.7,374.1 C242.5,374.0 243.3,373.8 244.1,373.7 C245.0,373.6 245.8,373.5 246.6,373.5 C247.5,373.4 248.3,373.4 249.1,373.3 C249.9,373.3 250.8,373.2 251.6,373.2 C252.5,373.2 253.3,373.2 254.1,373.2 C255.0,373.1 255.8,373.1 256.6,373.1 C257.5,373.1 258.3,373.1 259.1,373.0 C260.0,373.0 260.8,373.0 261.6,372.9 C262.5,372.9 263.3,372.9 264.1,372.8 C265.0,372.8 265.8,372.7 266.6,372.7 C267.4,372.6 268.3,372.6 269.1,372.5 C269.9,372.4 270.8,372.4 271.6,372.3 C272.4,372.2 273.3,372.2 274.1,372.1 C274.9,372.0 275.8,371.9 276.6,371.9 C277.4,371.8 278.2,371.7 279.1,371.6 C279.9,371.5 280.7,371.4 281.6,371.4 C282.4,371.3 283.2,371.2 284.0,371.1 C284.9,371.0 285.7,370.9 286.5,370.8 C287.3,370.7 288.2,370.7 289.0,370.6 C289.8,370.5 290.7,370.4 291.5,370.3 C292.3,370.2 293.1,370.1 294.0,370.0 C294.8,370.0 295.6,369.9 296.5,369.8 C297.3,369.7 298.1,369.6 299.0,369.5 C299.8,369.4 300.6,369.4 301.4,369.3 C302.3,369.2 303.1,369.1 303.9,369.1 C304.8,369.0 305.6,368.9 306.4,368.8 C307.2,368.8 308.1,368.7 308.9,368.6 C309.8,368.6 310.6,368.5 311.4,368.5 C312.2,368.4 313.1,368.3 313.9,368.3 C314.7,368.2 315.6,368.2 316.4,368.1 C317.2,368.1 318.1,368.0 318.9,368.0 C319.7,367.9 320.6,367.9 321.4,367.8 C322.2,367.8 323.0,367.7 323.9,367.7 C324.7,367.6 325.5,367.6 326.4,367.6 C327.2,367.5 328.0,367.5 328.9,367.4 C329.7,367.4 330.5,367.4 331.4,367.3 C332.2,367.3 333.0,367.3 333.9,367.2 C334.7,367.2 335.5,367.2 336.4,367.1 C337.2,367.1 338.0,367.1 338.9,367.1 C339.7,367.0 340.5,367.0 341.4,367.0 C342.2,366.9 343.0,366.9 343.9,366.9 C344.7,366.9 345.5,366.8 346.4,366.8 C347.2,366.8 348.0,366.8 348.9,366.8 C349.7,366.7 350.5,366.7 351.4,366.7 C352.2,366.7 353.0,366.6 353.9,366.6 C354.7,366.6 355.5,366.6 356.4,366.6 C357.2,366.5 358.0,366.5 358.9,366.5 C359.7,366.5 360.5,366.5 361.4,366.5 C362.2,366.4 363.0,366.4 363.9,366.4 C364.7,366.4 365.5,366.4 366.4,366.3 C367.2,366.3 368.0,366.3 368.9,366.3 C369.7,366.3 370.5,366.2 371.4,366.2 C372.2,366.2 373.0,366.2 373.9,366.1 C374.7,366.1 375.5,366.1 376.4,366.1 C377.2,366.1 378.0,366.0 378.9,366.0 C379.7,366.0 380.5,365.9 381.4,365.9 C382.2,365.9 383.0,365.9 383.9,365.8 C384.7,365.8 385.5,365.8 386.4,365.7 C387.2,365.7 388.0,365.7 388.9,365.6 C389.7,365.6 390.5,365.6 391.4,365.5 C392.2,365.5 393.0,365.4 393.8,365.4 C394.7,365.3 395.5,365.3 396.3,365.2 C397.2,365.2 398.0,365.1 398.8,365.1 C399.7,365.0 400.5,365.0 401.3,364.9 C402.2,364.9 403.0,364.8 403.8,364.8 C404.6,364.7 405.5,364.6 406.3,364.6 C407.2,364.5 408.0,364.4 408.8,364.4 C409.6,364.3 410.5,364.2 411.3,364.1 C412.1,364.0 412.9,364.0 413.8,363.9 C414.6,363.8 415.4,363.7 416.3,363.6 C417.1,363.5 417.9,363.4 418.8,363.3 C419.6,363.3 420.4,363.2 421.2,363.1 C422.1,363.0 422.9,362.9 423.7,362.8 C424.5,362.7 425.4,362.6 426.2,362.5 C427.0,362.3 427.9,362.2 428.7,362.1 C429.5,362.0 430.3,361.9 431.2,361.8 C432.0,361.7 432.8,361.6 433.7,361.5 C434.5,361.4 435.3,361.3 436.1,361.3 C437.0,361.2 437.8,361.1 438.6,361.0 C439.4,360.9 440.3,360.8 441.1,360.7 C441.9,360.6 442.8,360.6 443.6,360.5 C444.4,360.4 445.2,360.3 446.1,360.3 C446.9,360.2 447.7,360.1 448.6,360.1 C449.4,360.0 450.2,360.0 451.1,359.9 C451.9,359.9 452.7,359.9 453.6,359.8 C454.4,359.8 455.2,359.8 456.1,359.7 C456.9,359.7 457.7,359.7 458.6,359.7 C459.4,359.7 460.2,359.7 461.1,359.7 C461.9,359.8 462.7,359.8 463.6,359.8 C464.4,359.8 465.2,359.9 466.1,359.9 C466.9,360.0 467.7,360.1 468.6,360.1 C469.4,360.2 470.2,360.3 471.0,360.4 C471.9,360.6 472.7,360.7 473.5,360.8 C474.3,361.0 475.1,361.2 475.9,361.4 C476.7,361.6 477.5,361.8 478.3,362.1 C479.1,362.3 479.9,362.6 480.7,362.9 C481.5,363.3 482.2,363.6 483.0,363.9 C483.8,364.3 484.5,364.7 485.3,365.0 C486.0,365.4 486.7,365.7 487.5,366.1 C488.3,366.4 489.0,366.8 489.8,367.1 C490.5,367.5 491.3,367.8 492.1,368.1 C492.9,368.4 493.6,368.7 494.4,368.9 C495.2,369.2 496.0,369.4 496.8,369.7 C497.6,369.9 498.4,370.1 499.3,370.3 C500.1,370.5 500.9,370.6 501.7,370.8 C502.5,370.9 503.3,371.0 504.2,371.2 C505.0,371.3 505.8,371.4 506.6,371.5 C507.5,371.6 508.3,371.7 509.1,371.7 C510.0,371.8 510.8,371.9 511.6,371.9 C512.4,372.0 513.3,372.0 514.1,372.1 C515.0,372.1 515.8,372.2 516.6,372.2 C517.5,372.2 518.3,372.2 519.1,372.3 C520.0,372.3 520.8,372.3 521.6,372.3 C522.5,372.3 523.6,372.3 524.1,372.3 C524.7,372.3 524.9,372.3 525.0,372.3"/>
</g>
<rect x="278.3" y="18" width="235.1" height="89" fill="#fff" stroke="#000" stroke-width="1.7"/>
<g stroke-width="2.8" stroke-linecap="butt">
<line x1="288" y1="32.6" x2="324.8" y2="32.6" stroke="#FFC000"/>
<line x1="288" y1="62.4" x2="324.8" y2="62.4" stroke="#FF0000"/>
<line x1="288" y1="92.3" x2="324.8" y2="92.3" stroke="#0A6AC8"/>
</g>
<g font-family="Liberation Serif" font-size="18.6" fill="#000">
<text x="326.5" y="38">20% Ni-5% Cu/Al2O3</text>
<text transform="translate(326.5,67.8) scale(0.988,1)">20% Ni-5% Fe/Al2O3</text>
<text transform="translate(326.5,97.5) scale(0.994,1)">20%Ni-0.50%Pt/Al2O3</text>
</g>
<g font-family="Liberation Serif" font-size="23" fill="#000" text-anchor="middle">
<text transform="translate(50.4,453.5) scale(0.967,1)">0</text>
<text transform="translate(169.2,453.5) scale(0.967,1)">200</text>
<text transform="translate(287.5,453.5) scale(0.967,1)">400</text>
<text transform="translate(406.2,453.5) scale(0.967,1)">600</text>
<text transform="translate(524.8,453.5) scale(0.967,1)">800</text>
</g>
<text x="287.6" y="487.3" font-family="Liberation Serif" font-weight="bold" font-size="22" text-anchor="middle">Temperature (°C)</text>
<text transform="translate(24.4,207.8) rotate(-90)" font-family="Liberation Serif" font-weight="bold" font-size="22.5" text-anchor="middle">Inverse TCD Signal (a.u.)</text>
</svg>
</body></html>
